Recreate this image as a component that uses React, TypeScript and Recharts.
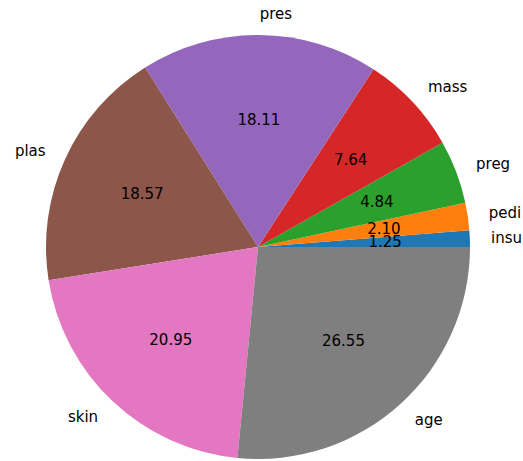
import React from "react";
import { PieChart, Pie, Cell } from "recharts";

const names = ["insu", "pedi", "preg", "mass", "pres", "plas", "skin", "age"];
const shares = [1.25, 2.1, 4.84, 7.64, 18.11, 18.57, 20.95, 26.55];
const colors = [
  "#1f77b4",
  "#ff7f0e",
  "#2ca02c",
  "#d62728",
  "#9467bd",
  "#8c564b",
  "#e377c2",
  "#7f7f7f",
];

const data = names.map((name, i) => ({ name, value: shares[i] }));

const RAD = Math.PI / 180;
const font = "'DejaVu Sans', sans-serif";

const renderLabel = (props: any) => {
  const { cx, cy, midAngle, outerRadius, value, name } = props;
  const cos = Math.cos(-midAngle * RAD);
  const sin = Math.sin(-midAngle * RAD);
  const px = cx + outerRadius * 0.6 * cos;
  const py = cy + outerRadius * 0.6 * sin;
  const lx = cx + outerRadius * 1.1 * cos;
  const ly = cy + outerRadius * 1.1 * sin;
  return (
    <g>
      <text
        x={px}
        y={py}
        textAnchor="middle"
        dominantBaseline="central"
        fill="#000"
        fontSize={15}
        fontFamily={font}
      >
        {Number(value).toFixed(2)}
      </text>
      <text
        x={lx}
        y={ly}
        textAnchor={cos >= 0 ? "start" : "end"}
        dominantBaseline="central"
        fill="#000"
        fontSize={15}
        fontFamily={font}
      >
        {name}
      </text>
    </g>
  );
};

export default function App() {
  return (
    <div style={{ position: "absolute", left: 0, top: 0, background: "#fff" }}>
      <PieChart
        width={523}
        height={461}
        margin={{ top: 0, right: 0, bottom: 0, left: 0 }}
      >
        <Pie
          data={data}
          dataKey="value"
          nameKey="name"
          cx={258}
          cy={247}
          outerRadius={212}
          startAngle={0}
          endAngle={360}
          stroke="none"
          labelLine={false}
          label={renderLabel}
          isAnimationActive={false}
        >
          {data.map((d, i) => (
            <Cell key={d.name} fill={colors[i]} />
          ))}
        </Pie>
      </PieChart>
    </div>
  );
}
